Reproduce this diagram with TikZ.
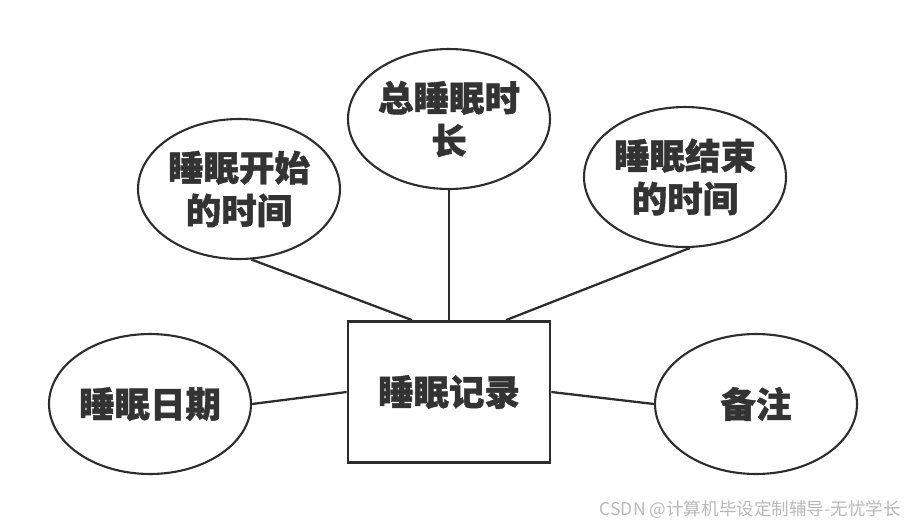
\documentclass[tikz,border=0pt]{standalone}
\usepackage{fontspec}
\usepackage{tikz}
\usetikzlibrary{shapes.geometric, positioning}
\usepackage{xcolor}
\newfontfamily\cjk{Noto Sans CJK SC}[BoldFeatures={FakeBold=1.2}]
\definecolor{er-line}{RGB}{45,45,45}
\definecolor{er-text}{RGB}{51,51,51}
\definecolor{mark-gray}{RGB}{185,185,185}

\begin{document}
\begin{tikzpicture}[
  x=0.02cm, y=-0.02cm,
  every node/.style = {font=\cjk\bfseries\fontsize{20.2}{24.4}\selectfont, text=er-text},
  % Box styles
  entitybox/.style = {draw=er-line, line width=1.6pt, rectangle,
                      minimum width=4.04cm, minimum height=2.82cm, inner sep=0pt},
  attrbox/.style   = {draw=er-line, line width=1.2pt, ellipse,
                      minimum width=4.04cm, minimum height=2.8cm, inner sep=0pt,
                      align=center},
  % Line style
  link/.style      = {draw=er-line, line width=1.3pt},
  marktext/.style  = {font=\cjk\fontsize{10}{12}\selectfont, text=mark-gray, anchor=east},
]
\useasboundingbox (0,0) rectangle (906,525);

% ── Nodes ──────────────────────────────────────────────────────────────────────

% entity (centre)
\node[entitybox] (rec) at (449, 392) {睡眠记录};

% attributes
\node[attrbox] (date)  at (150, 404) {睡眠日期};
\node[attrbox] (start) at (239, 189) {睡眠开始\\的时间};
\node[attrbox] (total) at (449, 119) {总睡眠时\\长};
\node[attrbox] (stop)  at (685, 177) {睡眠结束\\的时间};
\node[attrbox] (note)  at (756, 404) {备注};

% ── Lines ──────────────────────────────────────────────────────────────────────

\draw[link] (start.-80) -- ([xshift=-37*0.02cm]rec.north);
\draw[link] (total.south) -- (rec.north);
\draw[link] (stop.-86) -- ([xshift=57*0.02cm]rec.north);
\draw[link] (date.east) -- (rec.west);
\draw[link] (rec.east) -- (note.west);

% ── Watermark ──────────────────────────────────────────────────────────────────
\node[marktext] (mark) at (907, 510) {CSDN @计算机毕设定制辅导-无忧学长};

\end{tikzpicture}
\end{document}
